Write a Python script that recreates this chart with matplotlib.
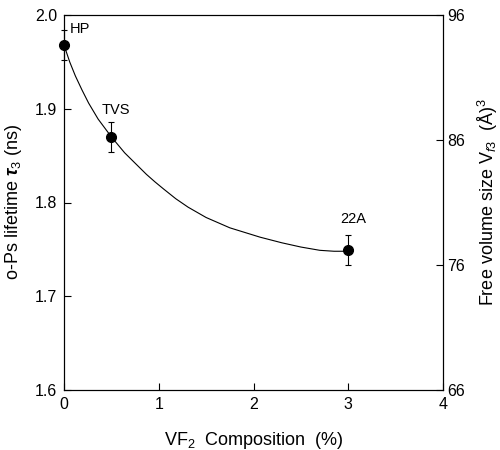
import numpy as np
import matplotlib
matplotlib.use("Agg")
import matplotlib.pyplot as plt

# datos
comp = [0.0, 0.5, 3.0]
tau3 = [1.968, 1.870, 1.749]
err = [0.016, 0.016, 0.016]
nombres = ["HP", "TVS", "22A"]

# curva ajustada (leida punto a punto)
curva_x = [0.0, 0.06, 0.12, 0.19, 0.26, 0.36, 0.5, 0.64, 0.79, 0.87, 0.96, 1.05, 1.18, 1.31, 1.5, 1.75, 2.07, 2.3, 2.5, 2.7, 2.85, 3.0]
curva_y = [1.968, 1.950, 1.935, 1.920, 1.906, 1.889, 1.870, 1.853, 1.838, 1.830, 1.822, 1.8145, 1.804, 1.795, 1.784, 1.773, 1.763, 1.757, 1.7525, 1.749, 1.748, 1.748]

plt.rcParams["font.family"] = ["Liberation Sans", "DejaVu Sans"]
plt.rcParams["mathtext.fontset"] = "custom"
plt.rcParams["mathtext.rm"] = "Liberation Sans"
plt.rcParams["mathtext.it"] = "Liberation Sans:italic"
plt.rcParams["mathtext.bf"] = "Liberation Sans:bold:italic"

fig = plt.figure(figsize=(5, 4.5), dpi=100)
ax = fig.add_axes([0.128, 0.1333, 0.758, 0.8334])

ax.plot(curva_x, curva_y, color="black", linewidth=0.8)
puntos = ax.errorbar(comp, tau3, yerr=err, fmt="o", color="black", markersize=7,
                     elinewidth=0.8, capsize=2.5, capthick=0.8)
for art in puntos.get_children():
    art.set_clip_on(False)

# etiquetas de cada muestra
ax.text(0.06, 1.985, nombres[0], fontsize=10.5, ha="left", va="center")
ax.text(0.55, 1.899, nombres[1], fontsize=10.5, ha="center", va="center")
ax.text(3.05, 1.782, nombres[2], fontsize=10.5, ha="center", va="center")

ax.set_xlim(0, 4)
ax.set_ylim(1.6, 2.0)
ax.set_xticks([0, 1, 2, 3, 4])
ax.set_yticks([1.6, 1.7, 1.8, 1.9, 2.0])
ax.set_yticklabels(["1.6", "1.7", "1.8", "1.9", "2.0"])
ax.tick_params(direction="in", length=5, width=0.8, labelsize=11.5, pad=5)
for s in ax.spines.values():
    s.set_linewidth(0.8)

ax.set_xlabel(r"VF$_2$  Composition  (%)", fontsize=13, labelpad=13)
ax.set_ylabel(r"o-Ps lifetime $\mathbf{\tau}_{3}$ (ns)", fontsize=13, labelpad=8)

# eje derecho: tamano de volumen libre
ax2 = ax.twinx()
ax2.set_ylim(66, 96)
ax2.set_yticks([66, 76, 86, 96])
ax2.tick_params(direction="in", length=5, width=0.8, labelsize=11.5, pad=3)
ax2.set_ylabel(r"Free volume size V$_{f3}$  (Å)$^3$", fontsize=13, labelpad=8)

fig.savefig("out.png", dpi=100)
